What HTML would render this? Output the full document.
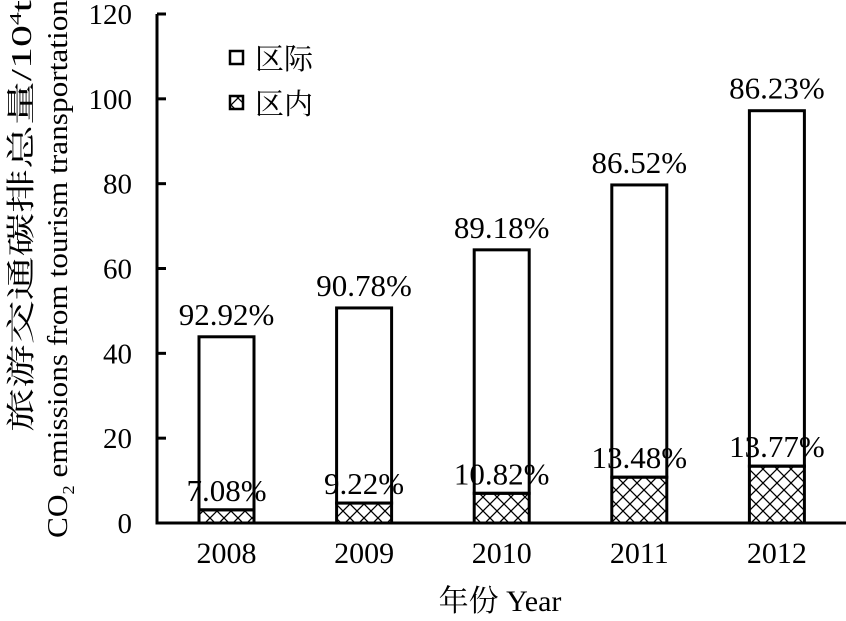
<!DOCTYPE html>
<html><head><meta charset="utf-8">
<style>
body{margin:0;background:#fff;}
svg text{font-family:"Liberation Serif","Noto Serif CJK SC",serif;fill:#000;}
</style></head>
<body>
<svg id="chart" width="846" height="616" viewBox="0 0 846 616" xmlns="http://www.w3.org/2000/svg">
<defs>
<pattern id="hatch" width="14" height="14" patternUnits="userSpaceOnUse">
<path d="M0,0L14,14M14,0L0,14" stroke="#000" stroke-width="1.3"/>
</pattern>
</defs>
<g id="bars"></g>
<g id="axes"></g>
<g>
<rect x="230" y="51" width="13" height="13" fill="#fff" stroke="#000" stroke-width="2.5"/>
<text x="255" y="69" font-size="29">区际</text>
<rect x="230" y="96" width="13" height="13" fill="url(#hatch)" stroke="#000" stroke-width="2.5"/>
<text x="255" y="114" font-size="29">区内</text>
</g>
<text transform="translate(31,216) rotate(-90)" text-anchor="middle" font-size="29" textLength="432" lengthAdjust="spacingAndGlyphs">旅游交通碳排总量/10<tspan font-size="17" dy="-10">4</tspan><tspan dy="10">t</tspan></text>
<text transform="translate(67,269) rotate(-90)" text-anchor="middle" font-size="29" textLength="538" lengthAdjust="spacingAndGlyphs">CO<tspan font-size="17" dy="7">2</tspan><tspan dy="-7"> emissions from tourism transportation</tspan></text>
<text x="500" y="611" text-anchor="middle" font-size="30">年份 Year</text>
</svg>
<script>
const categories=["2008","2009","2010","2011","2012"];
const totalValues=[43.9,50.7,64.4,79.7,97.2];
const intraValues=[3.1,4.7,7.0,10.8,13.4];
const interLabels=["92.92%","90.78%","89.18%","86.52%","86.23%"];
const intraLabels=["7.08%","9.22%","10.82%","13.48%","13.77%"];
const yTicks=[0,20,40,60,80,100,120];

const NS="http://www.w3.org/2000/svg";
const x0=157,y0=523,yTop=14,yMax=120;
const firstCenter=226.5,step=137.6,barW=55;
const y=v=>y0-(v/yMax)*(y0-yTop);
const xc=i=>firstCenter+i*step;
function mk(tag,attrs,parent){const e=document.createElementNS(NS,tag);for(const k in attrs)e.setAttribute(k,attrs[k]);parent.appendChild(e);return e;}
const bars=document.getElementById('bars'),axes=document.getElementById('axes');
categories.forEach((c,i)=>{
  const l=xc(i)-barW/2;
  const b1=mk('rect',{x:l,y:y(totalValues[i]),width:barW,height:y(intraValues[i])-y(totalValues[i]),fill:'#fff',stroke:'#000','stroke-width':3},bars);
  
  
  const b2=mk('rect',{x:l,y:y(intraValues[i]),width:barW,height:y0-y(intraValues[i]),fill:'url(#hatch)',stroke:'#000','stroke-width':3},bars);
  
  
  const t1=mk('text',{x:xc(i),y:y(totalValues[i])-12,'text-anchor':'middle','font-size':31},bars);
  t1.textContent=interLabels[i];
  
  
  const t2=mk('text',{x:xc(i),y:y(intraValues[i])-9,'text-anchor':'middle','font-size':31},bars);
  t2.textContent=intraLabels[i];
  
  
  const xl=mk('text',{x:xc(i),y:563,'text-anchor':'middle','font-size':30},axes);
  xl.textContent=c;
  
  
});
const ya=mk('path',{d:`M${x0},${yTop}V${y0}`,stroke:'#000','stroke-width':3,fill:'none'},axes);


const xa=mk('path',{d:`M${x0-1.5},${y0}H846`,stroke:'#000','stroke-width':3,fill:'none'},axes);


yTicks.forEach(t=>{
  const tk=mk('path',{d:`M${x0},${y(t)}H${x0+9}`,stroke:'#000','stroke-width':3},axes);
  
  
  const tl=mk('text',{x:132,y:y(t)+10,'text-anchor':'end','font-size':29},axes);
  tl.textContent=t;
  
  
});
</script>
</body></html>
